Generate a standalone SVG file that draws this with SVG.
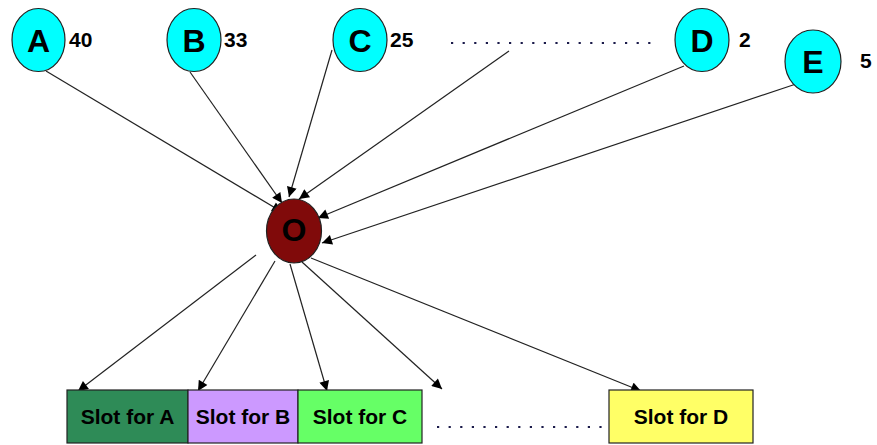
<svg xmlns="http://www.w3.org/2000/svg" width="877" height="445" viewBox="0 0 877 445">
<defs>
<marker id="ah" viewBox="0 0 10 10" refX="10" refY="5" markerWidth="12" markerHeight="10" markerUnits="userSpaceOnUse" orient="auto"><path d="M0,0 L10,5 L0,10 z" fill="#000"/></marker>
<style>
.src{fill:#00FFFF;stroke:#222;stroke-width:1.2}
.lt{font-family:"Liberation Sans",Arial,sans-serif;font-weight:bold;font-size:32px;text-anchor:middle}
.num{font-family:"Liberation Sans",Arial,sans-serif;font-weight:bold;font-size:21px}
.slot{stroke:#222;stroke-width:1.2}
.st{font-family:"Liberation Sans",Arial,sans-serif;font-weight:bold;font-size:21px;text-anchor:middle}
.cn{stroke:#222;stroke-width:1.2;fill:none;marker-end:url(#ah)}
.dot{stroke:#1a1a4a;stroke-width:2.2;stroke-dasharray:2.2,9.4}
</style>
</defs>
<rect width="877" height="445" fill="#fff"/>
<g id="connectors">
<line class="cn" x1="46" y1="71" x2="282" y2="212"/>
<line class="cn" x1="190" y1="72" x2="282" y2="203"/>
<line class="cn" x1="332" y1="50" x2="289" y2="197"/>
<line class="cn" x1="509" y1="51" x2="299" y2="199"/>
<line class="cn" x1="684" y1="66" x2="318" y2="218"/>
<line class="cn" x1="796" y1="84" x2="322" y2="243"/>
<line class="cn" x1="256" y1="255" x2="78" y2="391"/>
<line class="cn" x1="275" y1="261" x2="198" y2="391"/>
<line class="cn" x1="290" y1="264" x2="327" y2="391"/>
<line class="cn" x1="302" y1="262" x2="442" y2="389"/>
<line class="cn" x1="311" y1="258" x2="641" y2="391"/>
</g>
<g id="dots">
<line class="dot" x1="451" y1="43" x2="655" y2="43"/>
<line class="dot" x1="437" y1="427" x2="608" y2="427"/>
</g>
<g id="A"><ellipse class="src" cx="38.5" cy="40" rx="26.5" ry="31.5"/><text class="lt" x="38.5" y="52">A</text><text class="num" x="69" y="47">40</text></g>
<g id="B"><ellipse class="src" cx="194" cy="40" rx="27" ry="31.5"/><text class="lt" x="194" y="52">B</text><text class="num" x="224" y="47">33</text></g>
<g id="C"><ellipse class="src" cx="360" cy="40" rx="27" ry="31.5"/><text class="lt" x="360" y="52">C</text><text class="num" x="390" y="47">25</text></g>
<g id="D"><ellipse class="src" cx="702" cy="40" rx="27" ry="31.5"/><text class="lt" x="702" y="52">D</text><text class="num" x="739" y="47">2</text></g>
<g id="E"><ellipse class="src" cx="813" cy="61.5" rx="28" ry="31.5"/><text class="lt" x="813" y="73">E</text><text class="num" x="860" y="68">5</text></g>
<g id="O"><ellipse cx="294" cy="231" rx="27.5" ry="32" fill="#800A0A" stroke="#222" stroke-width="1.2"/><text class="lt" x="294" y="241" font-size="30">O</text></g>
<g id="slotA"><rect class="slot" x="67" y="390" width="121" height="53" fill="#2E8B57"/><text class="st" x="127.5" y="424">Slot for A</text></g>
<g id="slotB"><rect class="slot" x="188" y="390" width="110" height="53" fill="#CC99FF"/><text class="st" x="243" y="424">Slot for B</text></g>
<g id="slotC"><rect class="slot" x="298" y="390" width="124" height="53" fill="#66FF66"/><text class="st" x="360" y="424">Slot for C</text></g>
<g id="slotD"><rect class="slot" x="609" y="390" width="144" height="53" fill="#FFFF66"/><text class="st" x="681" y="424">Slot for D</text></g>
</svg>
